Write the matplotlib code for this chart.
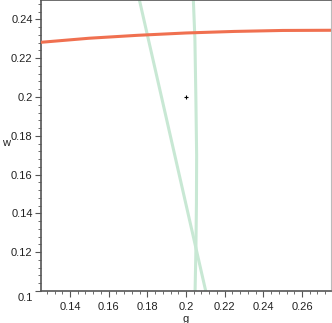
import matplotlib
matplotlib.use('Agg')
import matplotlib.pyplot as plt
from matplotlib.ticker import MultipleLocator
from matplotlib.transforms import ScaledTranslation

# values
orange_g = [0.125, 0.15, 0.175, 0.2, 0.225, 0.25, 0.275]
orange_w = [0.2282, 0.2303, 0.2318, 0.2330, 0.2338, 0.2343, 0.2344]

diag_g = [0.1759, 0.2102]
diag_w = [0.25, 0.10]

vert_g = [0.2038, 0.2046, 0.2051, 0.2055, 0.2054, 0.2051, 0.2047]
vert_w = [0.25, 0.23, 0.20, 0.17, 0.145, 0.12, 0.10]

point_g = [0.2]
point_w = [0.2]

xticks = [0.14, 0.16, 0.18, 0.2, 0.22, 0.24, 0.26]
yticks = [0.1, 0.12, 0.14, 0.16, 0.18, 0.2, 0.22, 0.24]

plt.rcParams['font.family'] = ['Liberation Sans', 'DejaVu Sans']

fig = plt.figure(figsize=(3.32, 3.23), dpi=100)
ax = fig.add_axes([41 / 332, 1 - 291 / 323, 290 / 332, 291 / 323])

ax.plot(orange_g, orange_w, color='#f07050', lw=2.2, zorder=3)
ax.plot(diag_g, diag_w, color='#c8e8d4', lw=2.2, zorder=2)
ax.plot(vert_g, vert_w, color='#c8e8d4', lw=2.2, zorder=2)
ax.plot(point_g, point_w, marker='+', color='black', ms=3, mew=0.8, ls='none', zorder=4)

ax.set_xlim(0.125, 0.275)
ax.set_ylim(0.1, 0.25)
ax.set_xticks(xticks)
ax.set_xticklabels([f'{t:g}' for t in xticks])
ax.set_yticks(yticks)
ax.set_yticklabels([f'{t:g}' for t in yticks])
ax.xaxis.set_minor_locator(MultipleLocator(0.004))
ax.yaxis.set_minor_locator(MultipleLocator(0.004))

ax.tick_params(which='major', length=4, width=0.8, color='#555555', labelsize=8, labelcolor='#222222')
ax.tick_params(axis='x', which='major', pad=4)
ax.tick_params(axis='y', which='major', pad=2)
ax.tick_params(which='minor', length=2, width=0.6, color='#555555')

# bottom y label sits a bit lower, as in the reference
lab = ax.get_yticklabels()[0]
lab.set_transform(lab.get_transform() + ScaledTranslation(0, -4 / 72, fig.dpi_scale_trans))

for s in ['left', 'bottom', 'top']:
    ax.spines[s].set_color('#555555')
    ax.spines[s].set_linewidth(1.2)
ax.spines['right'].set_color('#bbbbbb')
ax.spines['right'].set_linewidth(0.8)

ax.set_xlabel('g', fontsize=8, color='#222222')
ax.xaxis.set_label_coords(0.5, -0.078)
ax.set_ylabel('w', fontsize=8, color='#222222', rotation=0)
ax.yaxis.set_label_coords(-0.12, 0.49)

fig.savefig('out.png', dpi=100)
